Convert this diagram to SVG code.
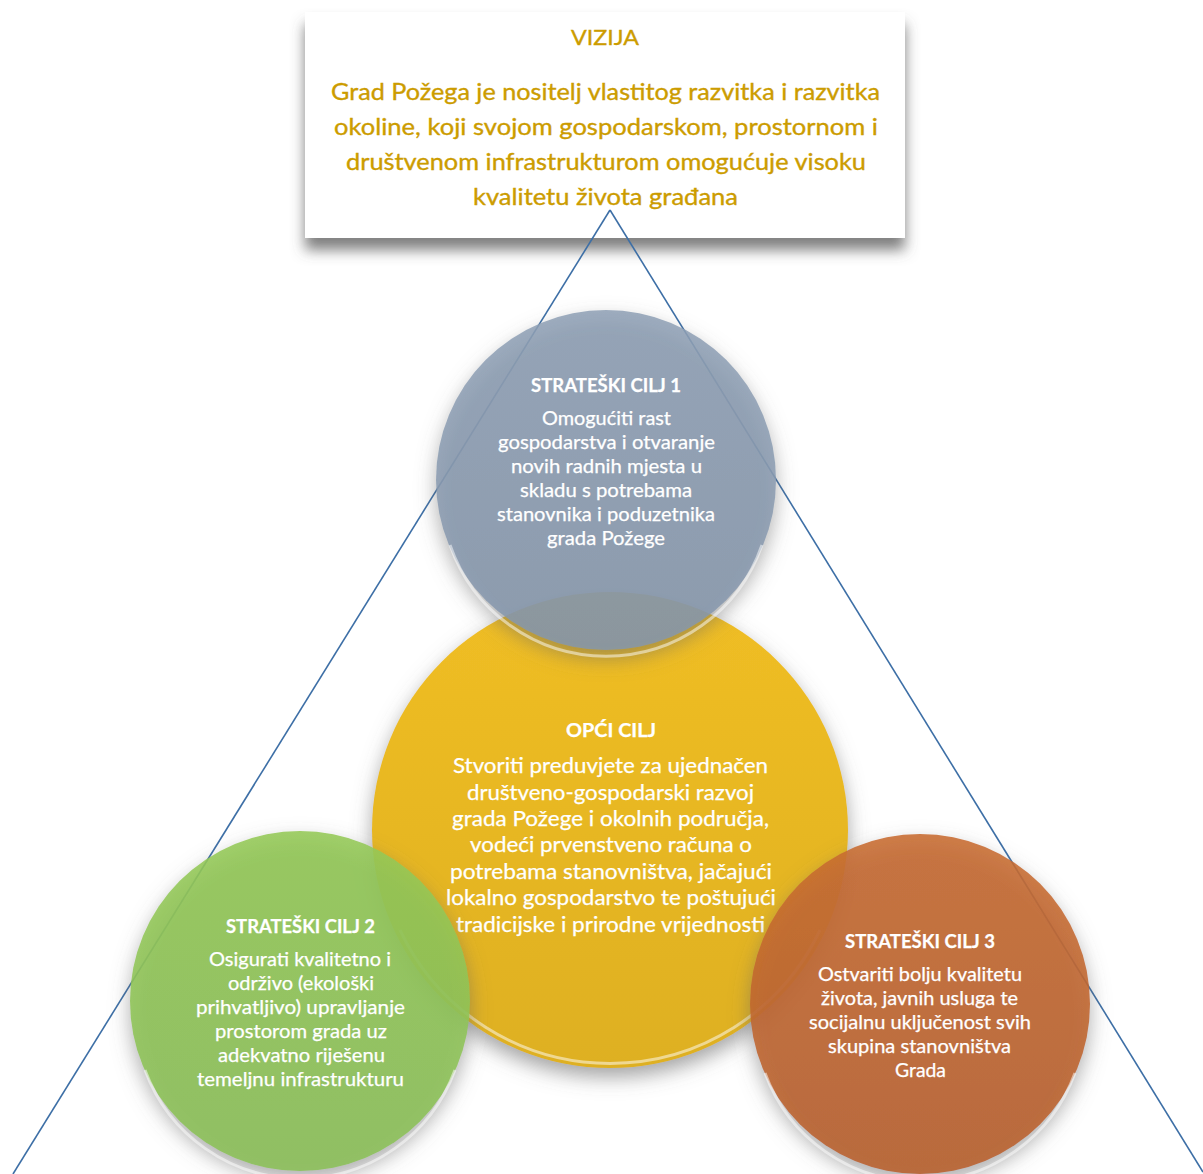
<svg xmlns="http://www.w3.org/2000/svg" width="1203" height="1174" viewBox="0 0 1203 1174">
<defs>
<style>
.vt{font-family:Lato,"Open Sans","Liberation Sans",sans-serif;fill:#CC9C00;stroke:#CC9C00;stroke-width:0.35;text-anchor:middle}
.ct{font-family:Lato,"Open Sans","Liberation Sans",sans-serif;fill:#FFFFFF;stroke:#FFFFFF;stroke-width:0.25;text-anchor:middle}
.ttl{font-weight:bold;font-size:18px}
.bd{font-size:19px}
.yb{font-size:21px}
.edge{fill:none;stroke:#3D6FA6;stroke-width:1.6}
.rim{fill:none;stroke:#FFFFFF;stroke-opacity:0.5;stroke-width:3}
</style>
<filter id="sh" x="-20%" y="-20%" width="140%" height="150%">
<feGaussianBlur in="SourceAlpha" stdDeviation="10"/>
<feOffset dx="0" dy="9" result="b"/>
<feFlood flood-color="#666666" flood-opacity="0.6"/>
<feComposite in2="b" operator="in"/>
<feMerge><feMergeNode/><feMergeNode in="SourceGraphic"/></feMerge>
</filter>
<filter id="shb" x="-10%" y="-20%" width="120%" height="160%">
<feGaussianBlur in="SourceAlpha" stdDeviation="7"/>
<feOffset dx="0" dy="12" result="b"/>
<feFlood flood-color="#555555" flood-opacity="0.75"/>
<feComposite in2="b" operator="in"/>
<feMerge><feMergeNode/><feMergeNode in="SourceGraphic"/></feMerge>
</filter>
<linearGradient id="gB" x1="0" y1="0" x2="0" y2="1"><stop offset="0" stop-color="#8FA0B5"/><stop offset="1" stop-color="#8596AB"/></linearGradient>
<linearGradient id="gY" x1="0" y1="0" x2="0" y2="1"><stop offset="0" stop-color="#F0BE25"/><stop offset="1" stop-color="#DEB020"/></linearGradient>
<linearGradient id="gG" x1="0" y1="0" x2="0" y2="1"><stop offset="0" stop-color="#94C956"/><stop offset="1" stop-color="#8BBF58"/></linearGradient>
<linearGradient id="gO" x1="0" y1="0" x2="0" y2="1"><stop offset="0" stop-color="#C86C30"/><stop offset="1" stop-color="#B8602A"/></linearGradient>
</defs>
<rect width="1203" height="1174" fill="#FFFFFF"/>

<g id="vizija">
<rect x="305" y="12" width="600" height="226" fill="#FFFFFF" filter="url(#shb)"/>
<text class="vt" x="605" y="45" font-size="21" textLength="68" lengthAdjust="spacingAndGlyphs">VIZIJA</text>
<text class="vt" x="605.5" y="100" font-size="23" textLength="549" lengthAdjust="spacingAndGlyphs">Grad Požega je nositelj vlastitog razvitka i razvitka</text>
<text class="vt" x="606" y="135" font-size="23" textLength="544" lengthAdjust="spacingAndGlyphs">okoline, koji svojom gospodarskom, prostornom i</text>
<text class="vt" x="606" y="170" font-size="23" textLength="520" lengthAdjust="spacingAndGlyphs">društvenom infrastrukturom omogućuje visoku</text>
<text class="vt" x="605.5" y="205" font-size="23" textLength="265" lengthAdjust="spacingAndGlyphs">kvalitetu života građana</text>
</g>

<g id="connectors">
<line class="edge" x1="610" y1="210" x2="13" y2="1174"/>
<line class="edge" x1="610" y1="210" x2="1203" y2="1172"/>
</g>

<g id="opci-cilj">
<circle cx="610" cy="830" r="238" fill="url(#gY)" filter="url(#sh)"/>
<path class="rim" d="M 400 930 A 232 232 0 0 0 820 930"/>
<text class="ct ttl" x="611" y="737" font-size="20" textLength="90" lengthAdjust="spacingAndGlyphs">OPĆI CILJ</text>
<text class="ct yb" x="610.5" y="773" textLength="315" lengthAdjust="spacingAndGlyphs">Stvoriti preduvjete za ujednačen</text>
<text class="ct yb" x="610.5" y="800" textLength="287" lengthAdjust="spacingAndGlyphs">društveno-gospodarski razvoj</text>
<text class="ct yb" x="610.5" y="826" textLength="317" lengthAdjust="spacingAndGlyphs">grada Požege i okolnih područja,</text>
<text class="ct yb" x="611" y="852" textLength="282" lengthAdjust="spacingAndGlyphs">vodeći prvenstveno računa o</text>
<text class="ct yb" x="611" y="879" textLength="322" lengthAdjust="spacingAndGlyphs">potrebama stanovništva, jačajući</text>
<text class="ct yb" x="611" y="905" textLength="330" lengthAdjust="spacingAndGlyphs">lokalno gospodarstvo te poštujući</text>
<text class="ct yb" x="610.5" y="932" textLength="309" lengthAdjust="spacingAndGlyphs">tradicijske i prirodne vrijednosti</text>
</g>

<g id="strateski-cilj-1">
<circle cx="606" cy="480" r="170" fill="url(#gB)" fill-opacity="0.86" filter="url(#sh)"/>
<path class="rim" d="M 450 545 A 165 165 0 0 0 762 545"/>
<text class="ct ttl" x="606" y="392" textLength="150" lengthAdjust="spacingAndGlyphs">STRATEŠKI CILJ 1</text>
<text class="ct bd" x="606.5" y="425" textLength="129" lengthAdjust="spacingAndGlyphs">Omogućiti rast</text>
<text class="ct bd" x="606.5" y="449" textLength="217" lengthAdjust="spacingAndGlyphs">gospodarstva i otvaranje</text>
<text class="ct bd" x="606.5" y="473" textLength="191" lengthAdjust="spacingAndGlyphs">novih radnih mjesta u</text>
<text class="ct bd" x="606" y="497" textLength="172" lengthAdjust="spacingAndGlyphs">skladu s potrebama</text>
<text class="ct bd" x="606" y="521" textLength="218" lengthAdjust="spacingAndGlyphs">stanovnika i poduzetnika</text>
<text class="ct bd" x="606" y="545" textLength="118" lengthAdjust="spacingAndGlyphs">grada Požege</text>
</g>

<g id="strateski-cilj-2">
<circle cx="300" cy="1001" r="170" fill="url(#gG)" fill-opacity="0.88" filter="url(#sh)"/>
<path class="rim" d="M 145 1070 A 165 165 0 0 0 455 1070"/>
<text class="ct ttl" x="300.5" y="933" textLength="149" lengthAdjust="spacingAndGlyphs">STRATEŠKI CILJ 2</text>
<text class="ct bd" x="300" y="966" textLength="182" lengthAdjust="spacingAndGlyphs">Osigurati kvalitetno i</text>
<text class="ct bd" x="301" y="990" textLength="146" lengthAdjust="spacingAndGlyphs">održivo (ekološki</text>
<text class="ct bd" x="300.5" y="1014" textLength="209" lengthAdjust="spacingAndGlyphs">prihvatljivo) upravljanje</text>
<text class="ct bd" x="301" y="1038" textLength="172" lengthAdjust="spacingAndGlyphs">prostorom grada uz</text>
<text class="ct bd" x="301.5" y="1062" textLength="167" lengthAdjust="spacingAndGlyphs">adekvatno riješenu</text>
<text class="ct bd" x="300.5" y="1086" textLength="207" lengthAdjust="spacingAndGlyphs">temeljnu infrastrukturu</text>
</g>

<g id="strateski-cilj-3">
<circle cx="920" cy="1004" r="170" fill="url(#gO)" fill-opacity="0.88" filter="url(#sh)"/>
<path class="rim" d="M 765 1073 A 165 165 0 0 0 1075 1073"/>
<text class="ct ttl" x="920" y="948" textLength="150" lengthAdjust="spacingAndGlyphs">STRATEŠKI CILJ 3</text>
<text class="ct bd" x="920" y="981" textLength="204" lengthAdjust="spacingAndGlyphs">Ostvariti bolju kvalitetu</text>
<text class="ct bd" x="919.5" y="1005" textLength="197" lengthAdjust="spacingAndGlyphs">života, javnih usluga te</text>
<text class="ct bd" x="920" y="1029" textLength="222" lengthAdjust="spacingAndGlyphs">socijalnu uključenost svih</text>
<text class="ct bd" x="919.5" y="1053" textLength="183" lengthAdjust="spacingAndGlyphs">skupina stanovništva</text>
<text class="ct bd" x="920.5" y="1077" textLength="51" lengthAdjust="spacingAndGlyphs">Grada</text>
</g>
</svg>
